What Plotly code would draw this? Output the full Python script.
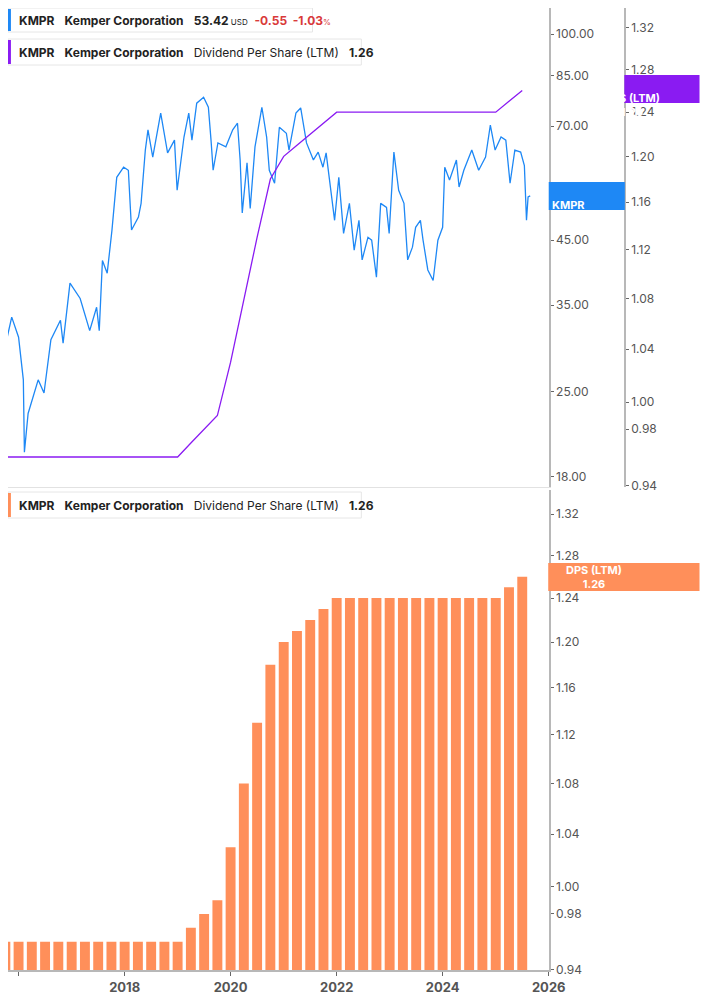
import pandas as pd
import plotly.graph_objects as go

# KMPR share price (decimal year, USD)
price_years = [2015.69, 2015.87, 2016.0, 2016.09, 2016.11, 2016.18, 2016.37, 2016.48, 2016.61, 2016.79,
               2016.84, 2016.97, 2017.16, 2017.34, 2017.47, 2017.52, 2017.58, 2017.67, 2017.76, 2017.85,
               2017.98, 2018.07, 2018.13, 2018.26, 2018.31, 2018.39, 2018.44, 2018.53, 2018.68, 2018.81,
               2018.94, 2018.99, 2019.12, 2019.21, 2019.27, 2019.36, 2019.49, 2019.58, 2019.63, 2019.67,
               2019.76, 2019.91, 2020.04, 2020.13, 2020.18, 2020.22, 2020.31, 2020.37, 2020.46, 2020.59,
               2020.68, 2020.73, 2020.83, 2020.92, 2021.05, 2021.10, 2021.23, 2021.32, 2021.43, 2021.56,
               2021.65, 2021.74, 2021.80, 2021.93, 2021.96, 2022.04, 2022.13, 2022.24, 2022.33, 2022.42,
               2022.48, 2022.59, 2022.66, 2022.75, 2022.83, 2022.94, 2022.99, 2023.08, 2023.17, 2023.27,
               2023.34, 2023.43, 2023.49, 2023.58, 2023.63, 2023.72, 2023.82, 2023.91, 2024.00, 2024.04,
               2024.13, 2024.26, 2024.31, 2024.40, 2024.55, 2024.68, 2024.81, 2024.90, 2024.99, 2025.10,
               2025.19, 2025.27, 2025.36, 2025.47, 2025.54, 2025.58, 2025.61, 2025.65]
price = [28.3, 33.4, 30.9, 26.2, 19.8, 23.0, 26.2, 24.9, 30.6, 33.0,
         30.2, 38.1, 35.9, 31.7, 34.7, 31.7, 41.6, 39.6, 46.8, 57.4,
         59.7, 59.0, 46.8, 49.2, 51.9, 63.8, 69.0, 62.1, 73.6, 63.1,
         66.3, 54.6, 67.1, 73.6, 66.3, 76.5, 78.3, 75.3, 66.3, 59.0,
         65.6, 64.6, 69.0, 70.8, 61.4, 50.0, 60.7, 50.9, 64.6, 75.3,
         67.1, 59.0, 56.1, 69.7, 68.1, 63.8, 73.6, 75.1, 65.6, 61.4,
         63.3, 59.7, 63.1, 50.0, 48.6, 57.4, 46.2, 51.9, 43.3, 48.6,
         41.7, 45.5, 45.0, 39.0, 51.9, 51.1, 46.2, 63.3, 54.6, 51.9,
         41.7, 43.8, 47.3, 48.6, 45.0, 40.1, 38.5, 45.0, 47.3, 59.7,
         56.8, 61.4, 55.3, 59.0, 63.8, 59.0, 62.1, 70.3, 63.8, 67.1,
         66.3, 56.1, 63.8, 63.3, 60.1, 48.6, 53.2, 53.42]

# Dividend per share (LTM), quarterly
dps_years = [2015.75 + 0.25 * i for i in range(40)]
dps = [0.96] * 14 + [0.97, 0.98, 0.99, 1.03, 1.08, 1.13, 1.18, 1.20, 1.21, 1.22, 1.23] \
      + [1.24] * 13 + [1.25, 1.26]

price_ticks = [18, 25, 35, 45, 55, 70, 85, 100]
dps_ticks = [0.94, 0.98, 1.00, 1.04, 1.08, 1.12, 1.16, 1.20, 1.24, 1.28, 1.32]
year_ticks = list(range(2016, 2027, 2))


def to_date(y):
    start = pd.Timestamp(int(y), 1, 1)
    return start + pd.Timedelta(days=(y - int(y)) * 365.25)


price_dates = [to_date(y) for y in price_years]
dps_dates = [to_date(y) for y in dps_years]

BLUE = "#1E88F5"
PURPLE = "#8A1BF2"
ORANGE = "#FF8F5A"
GREY = "#B8B8B8"
W, H = 709, 997          # page adds an 8px body margin
PLOT_H = 962
OFF = 8


def py(p):  # reference pixel row -> paper y
    return (PLOT_H - (p - OFF)) / PLOT_H


def px_(p):  # reference pixel column -> paper x
    return (p - OFF) / W


fig = go.Figure()
fig.add_trace(go.Scatter(x=price_dates, y=price, mode="lines", line=dict(color=BLUE, width=1.3),
                         xaxis="x", yaxis="y"))
fig.add_trace(go.Scatter(x=dps_dates, y=dps, mode="lines", line=dict(color=PURPLE, width=1.3),
                         xaxis="x", yaxis="y2"))
fig.add_trace(go.Bar(x=dps_dates, y=dps, marker=dict(color=ORANGE, line=dict(width=0)),
                     xaxis="x2", yaxis="y3"))

xr = [to_date(2015.80), to_date(2026.0)]
xdom = [0, px_(562)]
tickfont = dict(family="Inter", size=12, color="#555")
yax = dict(type="log", showgrid=False, ticks="outside", ticklen=3, tickcolor="#666",
           showline=True, linecolor=GREY, linewidth=2, tickfont=tickfont, zeroline=False)

fig.update_layout(
    width=W, height=H, margin=dict(l=0, r=0, t=0, b=H - PLOT_H),
    plot_bgcolor="white", paper_bgcolor="white", showlegend=False, bargap=0.25,
    font=dict(family="Inter"),
    xaxis=dict(domain=xdom, range=xr, anchor="y", showticklabels=False, showgrid=False,
               showline=True, linecolor="#E2E2E2", ticks=""),
    yaxis=dict(yax, domain=[py(487), 1], anchor="x", side="right", range=[1.238, 2.0438],
               tickvals=price_ticks, ticktext=[f"{v:.2f}" for v in price_ticks]),
    yaxis2=dict(yax, overlaying="y", anchor="free", position=px_(640), side="right",
                range=[-0.0274, 0.1270],
                tickvals=dps_ticks, ticktext=[f"{v:.2f}" for v in dps_ticks]),
    xaxis2=dict(domain=xdom, range=xr, anchor="y3", showgrid=False, showline=True,
                linecolor=GREY, linewidth=2, ticks="outside", ticklen=4, tickcolor="#666",
                tickvals=[pd.Timestamp(y, 1, 1) for y in year_ticks],
                ticktext=[str(y) for y in year_ticks],
                tickfont=dict(family="Inter", size=13, color="#555", weight="bold")),
    yaxis3=dict(yax, domain=[0, py(490)], anchor="x2", side="right", range=[-0.0269, 0.1284],
                tickvals=dps_ticks, ticktext=[f"{v:.2f}" for v in dps_ticks]),
)

# value tags on the axes
tags = [
    (601, 196, 78, 28, BLUE, "KMPR<br>53.42"),
    (678, 89, 77, 28, PURPLE, "DPS (LTM)<br>1.26"),
    (639, 577, 155, 28, ORANGE, "DPS (LTM)<br>1.26"),
]
for cx, cy, w, h, col, txt in tags:
    fig.add_shape(type="rect", xref="paper", yref="paper", x0=px_(cx - w / 2), x1=min(px_(cx + w / 2), 1),
                  y0=py(cy + h / 2), y1=py(cy - h / 2), fillcolor=col, line=dict(width=0))
    fig.add_annotation(xref="paper", yref="paper", x=px_(cx), y=py(cy), text=txt, showarrow=False,
                       font=dict(family="Inter", size=11, color="white", weight="bold"))

# legend boxes
boxes = [
    (8, 320, 8, 32, BLUE,
     "<b>KMPR</b>   <b>Kemper Corporation</b>   <b>53.42</b><span style='font-size:8px'> USD</span>"
     "  <span style='color:#D93A3A'><b>-0.55  -1.03</b><span style='font-size:8px'>%</span></span>"),
    (8, 370, 39, 65, PURPLE,
     "<b>KMPR</b>   <b>Kemper Corporation</b>   Dividend Per Share (LTM)   <b>1.26</b>"),
    (8, 370, 492, 518, ORANGE,
     "<b>KMPR</b>   <b>Kemper Corporation</b>   Dividend Per Share (LTM)   <b>1.26</b>"),
]
for x0, x1, y0, y1, col, txt in boxes:
    fig.add_shape(type="rect", xref="paper", yref="paper", x0=px_(x0), x1=px_(x1),
                  y0=py(y1), y1=py(y0), fillcolor="white", line=dict(color="#E6E6E6", width=1))
    fig.add_shape(type="rect", xref="paper", yref="paper", x0=px_(x0), x1=px_(x0 + 3),
                  y0=py(y1 - 1), y1=py(y0 + 1), fillcolor=col, line=dict(width=0))
    fig.add_annotation(xref="paper", yref="paper", x=px_(x0 + 9), y=py((y0 + y1) / 2), text=txt,
                       showarrow=False, xanchor="left", yanchor="middle",
                       font=dict(family="Inter", size=12, color="#222"))

fig.write_html("out.html")
